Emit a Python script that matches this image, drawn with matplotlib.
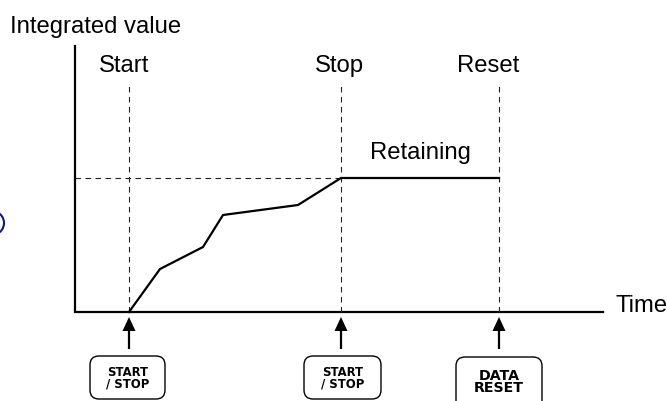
# integrated value vs time, start / stop / reset sequence
import matplotlib
matplotlib.use("Agg")
import matplotlib.pyplot as plt
from matplotlib.patches import Arc, FancyBboxPatch, Polygon

plt.rcParams['font.family'] = ['Liberation Sans', 'DejaVu Sans']

# curve
times = [54, 85, 128, 148, 223, 266, 424]
values = [0, 43, 65, 97, 107, 134, 134]

event_names = ['Start', 'Stop', 'Reset']
event_times = [54, 266, 424]
name_offsets = [-5, -2, -11]
event_buttons = ['START\n/ STOP', 'START\n/ STOP', 'DATA\nRESET']

fig = plt.figure(figsize=(6.67, 4.01), dpi=100)
ax = fig.add_axes([0, 0, 1, 1])
ax.set_xlim(-75, 592)
ax.set_ylim(-89, 312)
ax.axis('off')

# axes lines
ax.plot([0, 0, 528], [266, 0, 0], color='black', lw=1.6, solid_joinstyle='miter')

# dashed guides
dash = (0, (5, 4))
for t in event_times:
    ax.plot([t, t], [0, 229], color='#222222', lw=0.8, ls=dash)
ax.plot([0, times[5]], [values[5], values[5]], color='#222222', lw=0.8, ls=dash)

ax.plot(times, values, color='black', lw=1.6, solid_joinstyle='miter')

# labels
fs = 17.2
ax.text(-65, 279, 'Integrated value', fontsize=fs, ha='left', va='baseline')
ax.text(540, 0, 'Time', fontsize=fs, ha='left', va='baseline')
ax.text(345, 153, 'Retaining', fontsize=fs, ha='center', va='baseline')
for name, t, off in zip(event_names, event_times, name_offsets):
    ax.text(t + off, 240, name, fontsize=fs, ha='center', va='baseline')

# blue bracket cut off by the left edge
ax.add_patch(Arc((-83, 89), 24, 24, theta1=-70, theta2=70, color='#14148c', lw=1.5))

# arrows and buttons, the last one runs off the bottom edge
box_spans = [(15, 90), (229, 306), (381, 467)]
box_tops = [-44, -44, -45]
box_bottoms = [-87, -87, -100]
label_drop = [22, 22, 25]
label_sizes = [8.4, 8.4, 10.2]
for i, t in enumerate(event_times):
    left, right = box_spans[i]
    top, bottom = box_tops[i], box_bottoms[i]
    ax.plot([t, t], [-37, -18], color='black', lw=1.6, solid_capstyle='butt')
    ax.add_patch(Polygon([[t, -5], [t - 6.5, -19], [t + 6.5, -19]], closed=True, color='black', lw=0))
    ax.add_patch(FancyBboxPatch((left + 8, bottom + 8), right - left - 16, top - bottom - 16,
                                boxstyle='round,pad=8,rounding_size=9', fc='white', ec='black', lw=1.0))
    ax.text((left + right) / 2, top - label_drop[i], event_buttons[i], fontsize=label_sizes[i],
            fontweight='bold', ha='center', va='center', linespacing=0.85,
            family=['DejaVu Sans'])

fig.savefig('out.png', dpi=100)
